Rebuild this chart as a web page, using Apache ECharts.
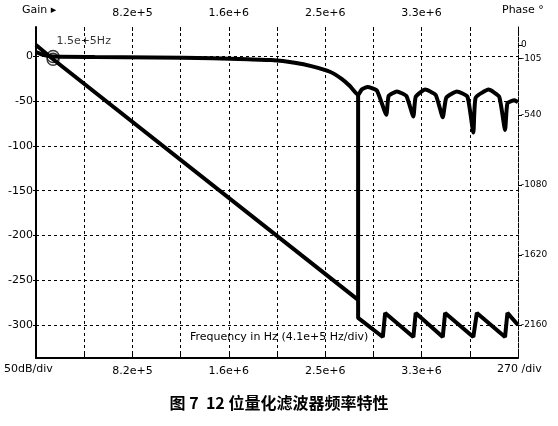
<!DOCTYPE html>
<html>
<head>
<meta charset="utf-8">
<script src="https://cdn.jsdelivr.net/npm/echarts@6/dist/echarts.min.js"></script>
<style>html,body{margin:0;padding:0;background:#fff}#c{width:558px;height:426px}</style>
</head>
<body>
<div id="c"></div>
<script>
// 增益曲线 (Hz, dB)
var gainData = [
  [0, 5], [60000, 2], [145000, 0], [500000, -0.5], [1000000, -1], [1500000, -2],
  [1800000, -3], [2000000, -4], [2200000, -7], [2350000, -11], [2500000, -17],
  [2600000, -25], [2670000, -33], [2740000, -43],
  [2770000, -37], [2820000, -34], [2900000, -38], [2980000, -65],
  [3000000, -44], [3070000, -39], [3150000, -44], [3210000, -67],
  [3230000, -45], [3310000, -37], [3400000, -43], [3460000, -68],
  [3490000, -46], [3580000, -39], [3670000, -45], [3720000, -85],
  [3740000, -46], [3850000, -37], [3940000, -45], [3990000, -82],
  [4010000, -52], [4070000, -49], [4100000, -51]
];
// 相位曲线 (Hz, deg)
var phaseData = [
  [0, 0], [145000, -110], [2740000, -1967], [2740000, -386], [2740000, -2106],
  [2950000, -2253], [2970000, -2067], [3210000, -2253], [3230000, -2067],
  [3460000, -2253], [3480000, -2067], [3720000, -2253], [3750000, -2067],
  [3990000, -2253], [4010000, -2067], [4100000, -2160]
];
var markerGain = [[145000, 0]];
var markerPhase = [[145000, -110]];
var gainTicks = [0, -50, -100, -150, -200, -250, -300];
var phaseTicks = [0, -105, -540, -1080, -1620, -2160];
var xTickLabels = {820000: '8.2e+5', 1640000: '1.6e+6', 2460000: '2.5e+6', 3280000: '3.3e+6'};

var chart = echarts.init(document.getElementById('c'));
var dash = {color: '#000', type: [3, 3], width: 1};
var labelFmt = function (v) { return xTickLabels[Math.round(v)] || ''; };
var ring = {color: 'transparent', borderColor: '#000', borderWidth: 1.3};
chart.setOption({
  animation: false,
  grid: {left: 36, right: 40, top: 27, bottom: 68},
  xAxis: [{
    type: 'value', min: 0, max: 4100000, interval: 410000, position: 'bottom',
    axisLine: {show: true, onZero: false, lineStyle: {color: '#000', width: 2}},
    axisTick: {show: true, inside: true, length: 4, lineStyle: {color: '#000'}},
    axisLabel: {color: '#000', fontSize: 11, fontFamily: 'DejaVu Sans', formatter: labelFmt},
    splitLine: {show: true, lineStyle: dash}
  }, {
    type: 'value', min: 0, max: 4100000, interval: 410000, position: 'top',
    axisLine: {show: false, onZero: false},
    axisTick: {show: true, inside: true, length: 4, lineStyle: {color: '#000'}},
    axisLabel: {color: '#000', fontSize: 11, fontFamily: 'DejaVu Sans', formatter: labelFmt},
    splitLine: {show: false}
  }],
  yAxis: [{
    type: 'value', min: -337, max: 33, position: 'left',
    axisLine: {show: true, onZero: false, lineStyle: {color: '#000', width: 2}},
    axisTick: {show: true, customValues: gainTicks, length: 3, lineStyle: {color: '#000'}},
    axisLabel: {customValues: gainTicks, color: '#000', fontSize: 11, fontFamily: 'DejaVu Sans', margin: 3},
    splitLine: {show: false}
  }, {
    type: 'value', min: -2415, max: 139, position: 'right',
    axisLine: {show: true, onZero: false, lineStyle: dash},
    axisTick: {show: true, customValues: phaseTicks, length: 4, lineStyle: {color: '#000'}},
    axisLabel: {customValues: phaseTicks, color: '#000', fontSize: 9, fontFamily: 'DejaVu Sans', margin: 3,
      formatter: function (v) { return String(v); }},
    splitLine: {show: false}
  }],
  series: [{
    type: 'line', data: gainData, showSymbol: false, xAxisIndex: 0, yAxisIndex: 0,
    lineStyle: {color: '#000', width: 4}, smooth: 0.15,
    markLine: {
      silent: true, symbol: 'none', label: {show: false},
      lineStyle: dash,
      data: gainTicks.map(function (t) { return {yAxis: t}; })
    }
  }, {
    type: 'line', data: phaseData, showSymbol: false, xAxisIndex: 0, yAxisIndex: 1,
    lineStyle: {color: '#000', width: 4}
  }, {
    type: 'scatter', data: markerGain, yAxisIndex: 0, symbol: 'circle', symbolSize: 12,
    itemStyle: ring, z: 5,
    label: {show: true, formatter: '1.5e+5Hz', position: [10, -14], color: '#000', fontSize: 11, fontFamily: 'DejaVu Sans'}
  }, {
    type: 'scatter', data: markerPhase, yAxisIndex: 1, symbol: 'circle', symbolSize: 12,
    itemStyle: ring, z: 5
  }],
  graphic: [
    {type: 'text', left: 22, top: 5, style: {text: 'Gain ▸', fill: '#000', font: '11px DejaVu Sans'}},
    {type: 'text', left: 502, top: 5, style: {text: 'Phase °', fill: '#000', font: '11px DejaVu Sans'}},
    {type: 'text', left: 4, top: 364, style: {text: '50dB/div', fill: '#000', font: '11px DejaVu Sans'}},
    {type: 'text', left: 497, top: 364, style: {text: '270 /div', fill: '#000', font: '11px DejaVu Sans'}},
    {type: 'text', left: 190, top: 332, style: {text: 'Frequency in Hz (4.1e+5 Hz/div)', fill: '#000', font: '11px DejaVu Sans'}},
    {type: 'text', left: 'center', top: 395, style: {text: '图 7  12 位量化滤波器频率特性', fill: '#000', font: 'bold 16px "Noto Sans CJK SC"'}}
  ]
});
</script>
</body>
</html>
